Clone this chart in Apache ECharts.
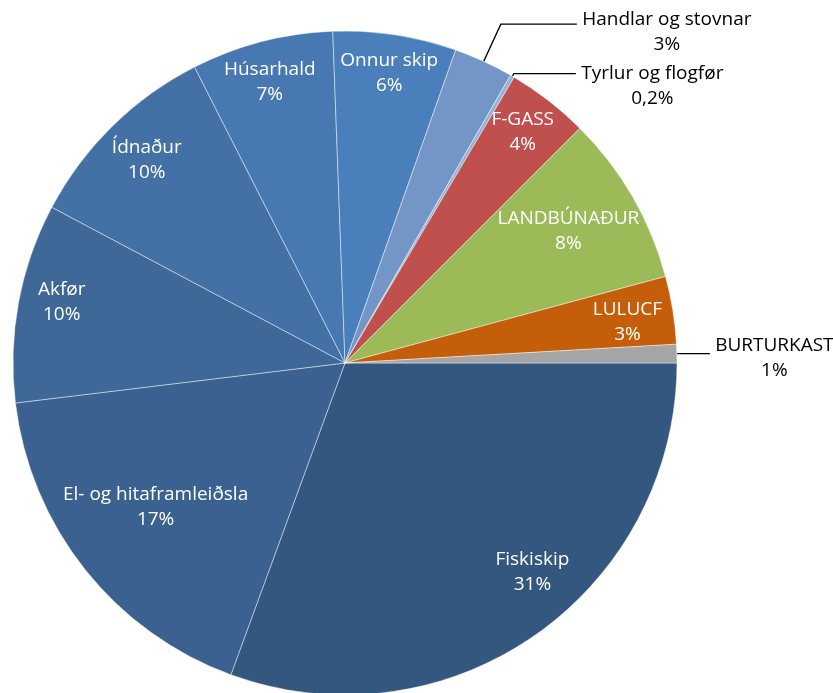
<!DOCTYPE html>
<html>
<head>
<meta charset="utf-8">
<script src="https://cdn.jsdelivr.net/npm/echarts@6/dist/echarts.min.js"></script>
<style>
html,body{margin:0;padding:0;background:#fff;}
#chart{width:833px;height:693px;}
</style>
</head>
<body>
<div id="chart"></div>
<script>
// Data (share of total, %)
const categories = ['Fiskiskip','El- og hitaframleiðsla','Akfør','Ídnaður','Húsarhald','Onnur skip','Handlar og stovnar','Tyrlur og flogfør','F-GASS','LANDBÚNAÐUR','LULUCF','BURTURKAST'];
const values = [30.6, 17.5, 9.7, 9.75, 6.9, 6.0, 2.9, 0.2, 4.0, 8.3, 3.3, 0.9];
const pctLabels = ['31%','17%','10%','10%','7%','6%','3%','0,2%','4%','8%','3%','1%'];

// Styles
const palette = ['#33577e','#3a6190','#3e6898','#4371a5','#4778b1','#4b7fbc','#7496c7','#95b3d7','#c0504d','#9bbb59','#c55e0a','#a5a5a5'];
const FONT = 'Open Sans';
const FSIZE = 19;
const LH = 25;
const outsideStyle = {
  'Handlar og stovnar': {length: 41, length2: 76, pad: 16},
  'Tyrlur og flogfør': {length: 3, length2: 62, pad: 24},
  'BURTURKAST': {length: 3, length2: 30, pad: 9}
};
// small nudges of the inside labels (Excel "best fit" placement)
const insideNudge = {
  'Fiskiskip': [27, -20], 'El- og hitaframleiðsla': [30, -30], 'Akfør': [-8, -10],
  'Ídnaður': [-2, -3], 'Húsarhald': [-5, -10], 'Onnur skip': [2, -13],
  'F-GASS': [6, -10], 'LANDBÚNAÐUR': [-19, 8], 'LULUCF': [6, 4]
};

const ctx = document.createElement('canvas').getContext('2d');
ctx.font = FSIZE + 'px "' + FONT + '"';
const textW = s => Math.ceil(ctx.measureText(s).width);

const mainData = categories.map((name, i) => {
  const o = outsideStyle[name];
  const item = {name: name, value: values[i]};
  if (o) {
    const w = Math.max(textW(name), textW(pctLabels[i]));
    item.label = {
      show: true,
      padding: [o.pad, 0, 0, 0],
      rich: {c: {width: w, align: 'center', fontFamily: FONT, fontSize: FSIZE, lineHeight: LH, color: '#000'}}
    };
    item.labelLine = {show: true, length: o.length, length2: o.length2};
  }
  return item;
});
const innerData = categories.map((name, i) => ({
  name: name, value: values[i],
  label: {show: !outsideStyle[name], offset: insideNudge[name] || [0, 0]}
}));

const chart = echarts.init(document.getElementById('chart'), null, {renderer: 'canvas'});
chart.setOption({
  animation: false,
  color: palette,
  series: [
    {
      type: 'pie',
      center: [345, 363],
      radius: [0, 332],
      startAngle: 0,
      clockwise: true,
      avoidLabelOverlap: false,
      minShowLabelAngle: 0,
      silent: true,
      itemStyle: {borderColor: 'rgba(255,255,255,0.55)', borderWidth: 0.8},
      label: {
        show: false,
        position: 'outside',
        color: '#000',
        fontFamily: FONT,
        fontSize: FSIZE,
        lineHeight: LH,
        formatter: p => '{c|' + p.name + '}\n{c|' + pctLabels[p.dataIndex] + '}'
      },
      labelLine: {show: false, lineStyle: {color: '#000', width: 1.3}},
      labelLayout: {hideOverlap: false, moveOverlap: null},
      emphasis: {disabled: true},
      data: mainData
    },
    {
      type: 'pie',
      center: [345, 363],
      radius: [222, 332],
      startAngle: 0,
      clockwise: true,
      avoidLabelOverlap: false,
      silent: true,
      itemStyle: {color: 'rgba(0,0,0,0)', borderWidth: 0},
      label: {
        position: 'inside',
        color: '#fff',
        fontFamily: FONT,
        fontSize: FSIZE,
        lineHeight: LH,
        formatter: p => p.name + '\n' + pctLabels[p.dataIndex]
      },
      labelLine: {show: false},
      labelLayout: {hideOverlap: false},
      emphasis: {disabled: true},
      data: innerData
    }
  ]
});
</script>
</body>
</html>
